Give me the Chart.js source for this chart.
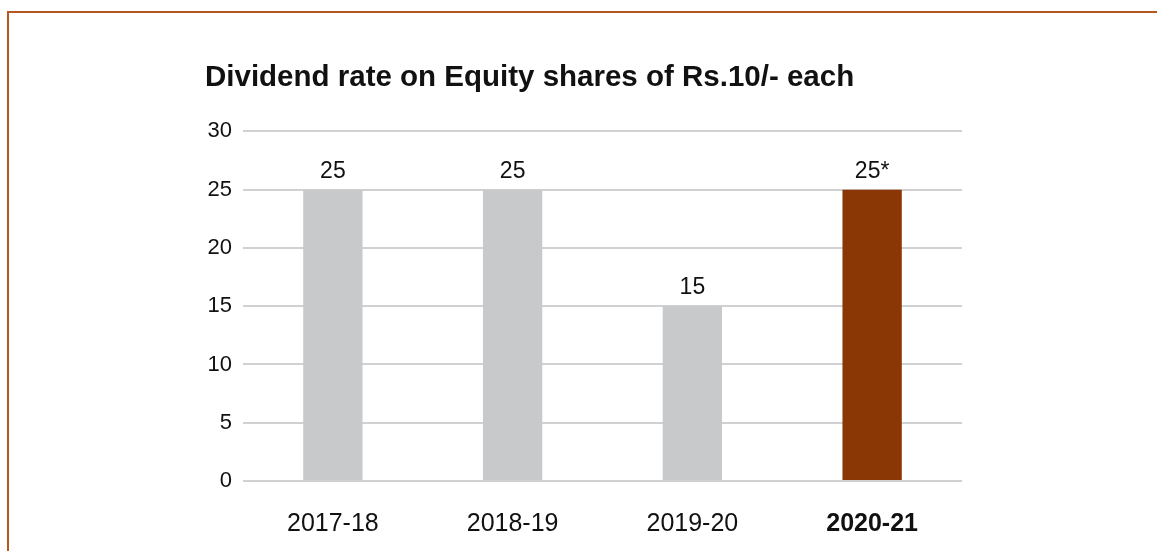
<!DOCTYPE html>
<html>
<head>
<meta charset="utf-8">
<script src="https://cdn.jsdelivr.net/npm/chart.js@4"></script>
<style>
html,body{margin:0;padding:0;background:#fff;}
#wrap{position:relative;width:1157px;height:551px;overflow:hidden;}
#frame{position:absolute;left:7px;top:11px;right:-10px;bottom:-10px;border-top:2px solid #B5581F;border-left:2px solid #B5581F;}
canvas{position:absolute;left:0;top:0;}
</style>
</head>
<body>
<div id="wrap"><div id="frame"></div><canvas id="c" width="1157" height="551"></canvas></div>
<script>
const titleText = "Dividend rate on Equity shares of Rs.10/- each";
const categories = ["2017-18", "2018-19", "2019-20", "2020-21"];
const dividendRates = [25, 25, 15, 25];
const valueLabels = ["25", "25", "15", "25*"];
const barColors = ["#C8C9CB", "#C8C9CB", "#C8C9CB", "#8B3605"];
const yTicks = [0, 5, 10, 15, 20, 25, 30];

const FONT = "'Liberation Sans', Arial, Helvetica, sans-serif";

const valueLabelPlugin = {
  id: 'valueLabels',
  afterDatasetsDraw(chart) {
    const ctx = chart.ctx;
    const meta = chart.getDatasetMeta(0);
    ctx.save();
    ctx.font = "23px " + FONT;
    ctx.fillStyle = "#111";
    ctx.textAlign = "center";
    ctx.textBaseline = "bottom";
    meta.data.forEach((bar, i) => {
      ctx.fillText(valueLabels[i], bar.x, bar.y - 7);
    });
    ctx.restore();
  }
};

new Chart(document.getElementById('c'), {
  type: 'bar',
  data: {
    labels: categories,
    datasets: [{
      data: dividendRates,
      backgroundColor: barColors,
      borderWidth: 0,
      categoryPercentage: 1.0,
      barPercentage: 0.33
    }]
  },
  options: {
    responsive: false,
    animation: false,
    devicePixelRatio: 1,
    layout: { padding: { left: 205, right: 195, top: 60, bottom: 12 } },
    plugins: {
      legend: { display: false },
      tooltip: { enabled: false },
      title: {
        display: true,
        text: titleText,
        align: 'start',
        color: '#111',
        font: { family: FONT, size: 29.5, weight: 'bold', lineHeight: 1.2 },
        padding: { top: 0, bottom: 36 }
      }
    },
    scales: {
      x: {
        afterFit(scale) { scale.height = 58; },
        grid: { display: false, drawTicks: false },
        border: { display: false },
        ticks: {
          color: '#111',
          padding: 28,
          font: (ctx) => ({ family: FONT, size: 25, lineHeight: 1.2, weight: ctx.index === 3 ? 'bold' : 'normal' })
        }
      },
      y: {
        min: 0, max: 30,
        afterFit(scale) { scale.width = 38; },
        afterBuildTicks(scale) { scale.ticks = yTicks.map(v => ({ value: v })); },
        grid: { color: '#D0D1D3', lineWidth: 2, drawTicks: false },
        border: { display: false },
        ticks: {
          color: '#111',
          padding: 11,
          font: { family: FONT, size: 22 }
        }
      }
    }
  },
  plugins: [valueLabelPlugin]
});
</script>
</body>
</html>
